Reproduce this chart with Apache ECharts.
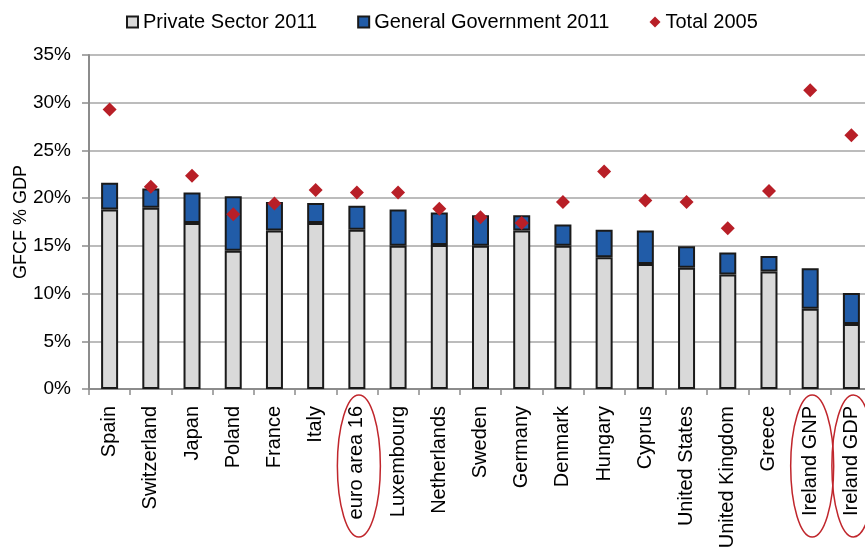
<!DOCTYPE html>
<html>
<head>
<meta charset="utf-8">
<script src="https://cdn.jsdelivr.net/npm/echarts@6/dist/echarts.min.js"></script>
<style>
html,body{margin:0;padding:0;background:#fff;}
#chart{width:865px;height:557px;}
</style>
</head>
<body>
<div id="chart"></div>
<script>
const categories = ['Spain','Switzerland','Japan','Poland','France','Italy','euro area 16','Luxembourg','Netherlands','Sweden','Germany','Denmark','Hungary','Cyprus','United States','United Kingdom','Greece','Ireland GNP','Ireland GDP'];
const privateSector2011 = [18.8,19.0,17.4,14.5,16.6,17.4,16.7,15.0,15.1,15.0,16.6,15.0,13.8,13.1,12.7,12.0,12.3,8.4,6.8];
const totalGFCF2011 = [21.6,21.0,20.6,20.2,19.6,19.5,19.2,18.8,18.5,18.2,18.2,17.25,16.7,16.6,14.95,14.3,13.95,12.65,10.05];
const generalGov2011 = totalGFCF2011.map((t,i)=>+(t - privateSector2011[i]).toFixed(2));
const total2005 = [29.3,21.2,22.35,18.3,19.45,20.85,20.6,20.6,18.9,18.0,17.4,19.6,22.8,19.75,19.6,16.85,20.75,31.3,26.6];
const highlighted = ['euro area 16','Ireland GNP','Ireland GDP'];

const FONT = 'Liberation Sans';
const chart = echarts.init(document.getElementById('chart'));
chart.setOption({
  animation:false,
  backgroundColor:'#fff',
  textStyle:{fontFamily:FONT},
  legend:{
    left:121, top:7, itemWidth:11, itemHeight:11, itemGap:40,
    textStyle:{fontSize:20, color:'#000', fontFamily:FONT},
    data:[
      {name:'Private Sector 2011', icon:'rect'},
      {name:'General Government 2011', icon:'rect'},
      {name:'Total 2005', icon:'diamond'}
    ]
  },
  grid:{left:89, right:-7, top:55, bottom:168, containLabel:false, outerBoundsMode:'none'},
  xAxis:{
    type:'category', data:categories,
    axisLine:{lineStyle:{color:'#8c8c8c', width:2}},
    axisTick:{show:true, length:6, alignWithLabel:false, lineStyle:{color:'#8c8c8c', width:1.5}},
    axisLabel:{rotate:90, fontSize:20, color:'#000', margin:17, interval:0, fontFamily:FONT}
  },
  yAxis:{
    type:'value', min:0, max:35, interval:5,
    name:'GFCF % GDP', nameLocation:'middle', nameGap:59, nameMoveOverlap:false,
    nameTextStyle:{fontSize:18, color:'#000', fontFamily:FONT},
    axisLine:{show:true, lineStyle:{color:'#8c8c8c', width:2}},
    axisTick:{show:true, length:7, lineStyle:{color:'#8c8c8c', width:1.5}},
    splitLine:{lineStyle:{color:'#a6a6a6', width:1.5}},
    axisLabel:{formatter:'{value}%', fontSize:19, color:'#000', margin:18, fontFamily:FONT}
  },
  series:[
    {name:'Private Sector 2011', type:'bar', stack:'g', data:privateSector2011, barWidth:17,
      itemStyle:{color:'#d9d9d9', borderColor:'#1a1a1a', borderWidth:2}},
    {name:'General Government 2011', type:'bar', stack:'g', data:generalGov2011, barWidth:17,
      itemStyle:{color:'#215ca8', borderColor:'#1a1a1a', borderWidth:2}},
    {name:'Total 2005', type:'scatter', data:total2005, symbol:'diamond', symbolSize:14, z:5,
      itemStyle:{color:'#b81f27', opacity:1}}
  ]
});

function addEllipses(){
  const gridBottom = 557 - 168;
  const els = highlighted.map(c=>{
    const x = chart.convertToPixel({xAxisIndex:0}, c);
    return {type:'ellipse', shape:{cx:x+2, cy:gridBottom+77, rx:21.5, ry:71},
      style:{fill:'none', stroke:'#c0262c', lineWidth:1.5}, z:10, silent:true};
  });
  chart.setOption({graphic:els});
}
addEllipses();
</script>
</body>
</html>
